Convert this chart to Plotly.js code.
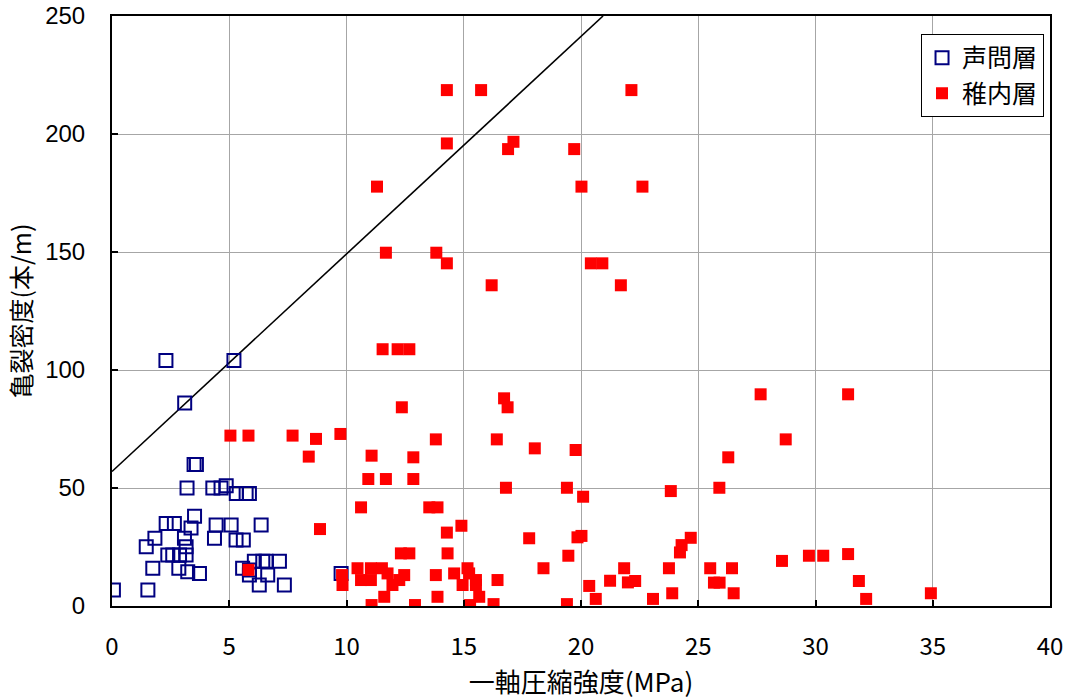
<!DOCTYPE html>
<html>
<head>
<meta charset="utf-8">
<script src="https://cdn.plot.ly/plotly-3.0.1.min.js"></script>
<style>html,body{margin:0;padding:0;background:#fff;}#chart{width:1071px;height:700px;}</style>
</head>
<body>
<div id="chart"></div>
<script>
// 声問層 (Koetoi formation)
var koetoiX = [2.3, 5.2, 3.1, 3.5, 3.6, 3.2, 4.3, 4.65, 4.87, 5.3, 5.72, 5.86, 3.52, 2.31, 2.66, 3.37, 4.44, 5.08, 6.36, 1.83, 3.09, 4.37, 5.29, 5.6, 1.46, 3.16, 2.38, 2.59, 2.88, 3.16, 1.74, 2.85, 3.23, 3.73, 5.57, 5.86, 6.07, 6.43, 6.57, 7.14, 6.28, 6.64, 7.35, 0.06, 1.53, 9.77, 5.86];
var koetoiY = [104, 104, 86, 60, 60, 50, 50, 50, 51, 47.7, 47.7, 47.7, 38, 35, 35, 33, 34.3, 34.3, 34.3, 28.7, 28.7, 28.7, 28, 28, 25.1, 25.1, 21.6, 21.6, 21.6, 21.6, 16, 16, 14.5, 13.8, 16, 15.3, 19, 19, 19, 19, 8.9, 13.1, 8.9, 6.8, 6.8, 13.8, 13.1];

// 稚内層 (Wakkanai formation)
var wakkanaiX = [14.28, 15.74, 22.15, 14.28, 17.12, 16.89, 19.71, 11.30, 20.02, 22.62, 11.68, 13.83, 14.28, 20.42, 20.91, 16.19, 21.7, 11.54, 12.18, 12.68,
  5.05, 5.82, 7.70, 8.70, 8.39, 9.74, 12.36, 16.72, 16.87, 13.81, 16.41, 11.07, 12.85, 18.03, 19.77,
  10.93, 11.68, 12.85, 16.80, 19.40, 20.09, 23.83, 10.62, 13.53, 13.88, 14.90, 14.28, 8.87, 17.79, 19.85, 20.02,
  12.32, 12.68, 14.31, 19.46,
  10.47, 11.04, 11.51, 11.75, 12.46, 13.81, 14.59, 15.16, 15.23, 18.40, 21.84, 23.75,
  5.82, 9.81, 9.83, 10.62, 11.04, 11.96, 12.25, 15.52, 14.95, 16.44, 15.52, 15.66, 20.35, 21.24, 22.0, 22.31,
  11.61, 13.88, 20.63, 23.07, 23.89, 11.07, 12.92, 15.27, 16.27, 19.40,
  27.66, 31.39, 28.73, 26.28, 25.9, 24.68, 24.29, 24.22, 25.51, 26.44, 28.57, 29.72, 30.33, 31.39, 25.67, 25.91, 31.85, 26.51, 32.16, 34.92];
var wakkanaiY = [218.6, 218.6, 218.6, 196, 196.7, 193.6, 193.6, 177.7, 177.7, 177.7, 149.7, 149.7, 145.2, 145.2, 145.2, 135.9, 135.9, 108.8, 108.8, 108.8,
  72.2, 72.2, 72.2, 70.8, 63.3, 72.9, 84.2, 88, 84.2, 70.6, 70.6, 63.7, 63, 66.8, 66.1,
  53.8, 53.8, 53.8, 50.1, 50.1, 46.3, 48.7, 41.8, 41.8, 41.8, 34, 31.1, 32.6, 28.7, 29.1, 29.7,
  22.3, 22.3, 22.3, 21.3,
  16, 16, 16, 13.8, 13.1, 13.1, 13.8, 16, 13.8, 16, 16, 16,
  15.3, 13.1, 8.9, 11, 11, 8.9, 11, 11, 8.9, 11, 8.9, 3.9, 8.5, 10.7, 10, 10.6,
  3.9, 3.9, 3, 3, 5.4, 0.4, 0.4, 0.4, 0.8, 0.8,
  89.7, 89.7, 70.6, 63, 50.1, 28.9, 25.8, 22.7, 16, 16, 19.1, 21.3, 21.3, 22, 9.9, 9.9, 10.6, 5.4, 3, 5.4];

// boundary line
var lineX = [0, 20.94];
var lineY = [57, 250];

var legendNames = ["声問層", "稚内層"];
var xTitle = "一軸圧縮強度(MPa)";
var yTitle = "亀裂密度(本/m)";

var cjk = "'Noto Sans CJK JP', 'Noto Sans', sans-serif";

var traces = [
  {x: lineX, y: lineY, mode: "lines", type: "scatter", showlegend: false,
   line: {color: "#000000", width: 1.6}, hoverinfo: "skip"},
  {x: koetoiX, y: koetoiY, mode: "markers", type: "scatter", name: legendNames[0], legendgroup: "a",
   marker: {symbol: "square-open", size: 13, color: "#000080", line: {color: "#000080", width: 2}}},
  {x: wakkanaiX, y: wakkanaiY, mode: "markers", type: "scatter", name: legendNames[1], legendgroup: "b",
   marker: {symbol: "square", size: 12, color: "#ff0000", line: {width: 0}}}
];

var axisCommon = {
  showgrid: true, gridcolor: "#a6a6a6", gridwidth: 1,
  showline: true, linecolor: "#000000", linewidth: 2, mirror: true,
  ticks: "inside", ticklen: 6, tickwidth: 2, tickcolor: "#000000",
  zeroline: false, fixedrange: true
};

var layout = {
  width: 1071, height: 700,
  margin: {l: 112, r: 21, t: 16, b: 94},
  paper_bgcolor: "#ffffff", plot_bgcolor: "#ffffff",
  font: {family: cjk, color: "#000000"},
  xaxis: Object.assign({}, axisCommon, {
    range: [0, 40], dtick: 5, tick0: 0,
    tickfont: {family: "'Liberation Sans Narrow', 'Noto Sans CJK JP', sans-serif", size: 24, color: "#000"},
    ticklabelstandoff: 18,
    title: {text: xTitle, font: {family: cjk, size: 26, color: "#000"}, standoff: 6}
  }),
  yaxis: Object.assign({}, axisCommon, {
    range: [0, 250], dtick: 50, tick0: 0,
    tickfont: {family: "'Liberation Sans', Arial, sans-serif", size: 24, color: "#000"},
    ticklabelstandoff: 20,
    title: {text: yTitle, font: {family: cjk, size: 25, color: "#000"}, standoff: 6}
  }),
  legend: {
    x: 0.8625, y: 0.9695, xanchor: "left", yanchor: "top",
    bgcolor: "#ffffff", bordercolor: "#000000", borderwidth: 1,
    font: {family: cjk, size: 25, color: "#000"},
    traceorder: "grouped", tracegroupgap: 0, itemwidth: 30
  },
  showlegend: true
};

Plotly.newPlot("chart", traces, layout, {displayModeBar: false, staticPlot: true});
</script>
</body>
</html>
